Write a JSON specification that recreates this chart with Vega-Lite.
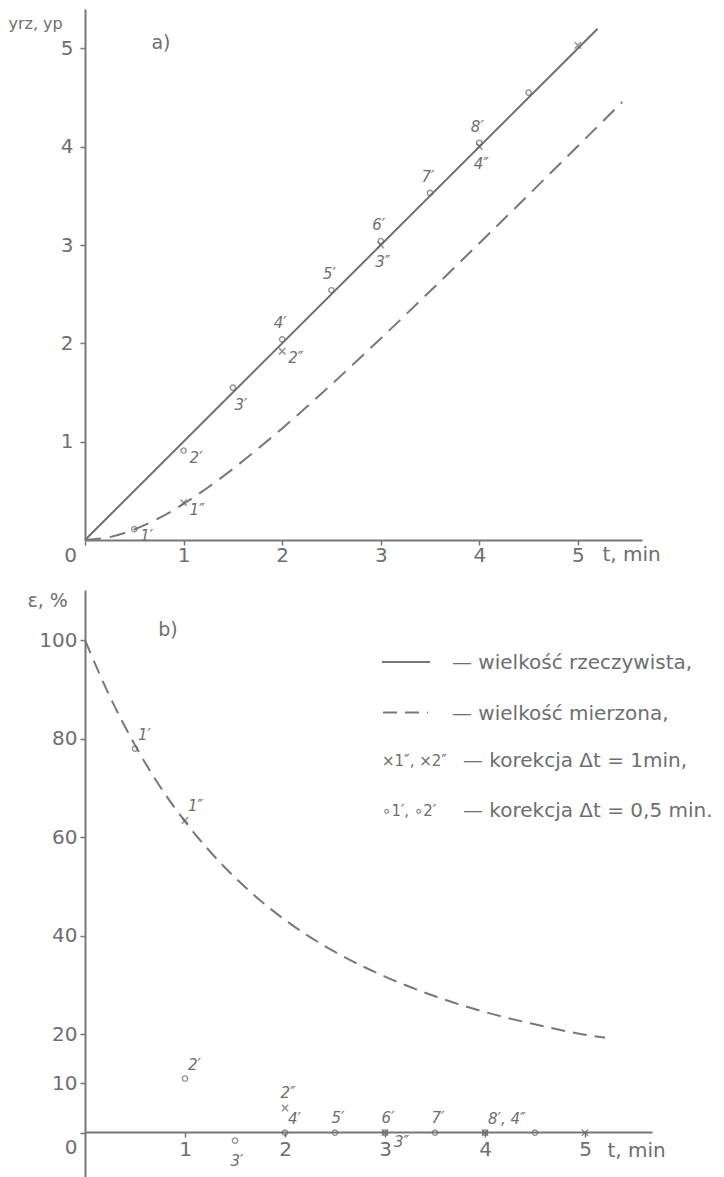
{
  "$schema": "https://vega.github.io/schema/vega-lite/v6.json",
  "padding": {"left": 8, "top": 9, "right": 0, "bottom": 0},
  "spacing": 50,
  "bounds": "flush",
  "background": "white",
  "config": {
    "view": {"stroke": null},
    "axis": {
      "grid": false, "domainColor": "#777777", "domainWidth": 2,
      "tickColor": "#777777", "tickWidth": 1.5, "tickSize": 5,
      "labelColor": "#6e6e6e", "labelFont": "DejaVu Sans", "labelFontSize": 20,
      "labelFlush": false, "labelOverlap": false,
      "titleColor": "#6e6e6e", "titleFont": "DejaVu Sans", "titleFontSize": 19, "titleFontWeight": "normal"
    },
    "text": {"font": "DejaVu Sans", "color": "#6e6e6e"}
  },
  "datasets": {
    "idealA": [{"t": 0, "v": 0}, {"t": 5.2, "v": 5.2}],
    "measA": [
      {"t": 0, "v": 0}, {"t": 0.25, "v": 0.029}, {"t": 0.5, "v": 0.107}, {"t": 0.75, "v": 0.222},
      {"t": 1, "v": 0.368}, {"t": 1.25, "v": 0.537}, {"t": 1.5, "v": 0.723}, {"t": 1.75, "v": 0.924},
      {"t": 2, "v": 1.135}, {"t": 2.5, "v": 1.582}, {"t": 3, "v": 2.05}, {"t": 3.5, "v": 2.53},
      {"t": 4, "v": 3.018}, {"t": 4.5, "v": 3.511}, {"t": 5, "v": 4.007}, {"t": 5.45, "v": 4.454}
    ],
    "ptsA": [
      {"t": 0.5, "v": 0.11, "kind": "o", "lab": "1′"},
      {"t": 1, "v": 0.91, "kind": "o", "lab": "2′"},
      {"t": 1.5, "v": 1.55, "kind": "o", "lab": "3′"},
      {"t": 2, "v": 2.04, "kind": "o", "lab": "4′"},
      {"t": 2.5, "v": 2.54, "kind": "o", "lab": "5′"},
      {"t": 3, "v": 3.04, "kind": "o", "lab": "6′"},
      {"t": 3.5, "v": 3.53, "kind": "o", "lab": "7′"},
      {"t": 4, "v": 4.04, "kind": "o", "lab": "8′"},
      {"t": 4.5, "v": 4.55, "kind": "o", "lab": ""},
      {"t": 1, "v": 0.38, "kind": "x", "lab": "1″"},
      {"t": 2, "v": 1.92, "kind": "x", "lab": "2″"},
      {"t": 3, "v": 3.0, "kind": "x", "lab": "3″"},
      {"t": 4, "v": 4.0, "kind": "x", "lab": "4″"},
      {"t": 5, "v": 5.03, "kind": "x", "lab": ""}
    ],
    "noteA": [{"t": 0.77, "v": 5.05, "txt": "a)"}],
    "measB": [
      {"t": 0, "v": 100}, {"t": 0.25, "v": 88.5}, {"t": 0.5, "v": 78.7}, {"t": 0.75, "v": 70.3},
      {"t": 1, "v": 63.2}, {"t": 1.25, "v": 57.1}, {"t": 1.5, "v": 51.8}, {"t": 1.75, "v": 47.2},
      {"t": 2, "v": 43.2}, {"t": 2.5, "v": 36.7}, {"t": 3, "v": 31.7}, {"t": 3.5, "v": 27.7},
      {"t": 4, "v": 24.5}, {"t": 4.5, "v": 22.0}, {"t": 5, "v": 19.9}, {"t": 5.2, "v": 19.3}
    ],
    "ptsB": [
      {"t": 0.5, "v": 78, "kind": "o", "lab": "1′"},
      {"t": 1, "v": 11, "kind": "o", "lab": "2′"},
      {"t": 1.5, "v": -1.6, "kind": "o", "lab": "3′"},
      {"t": 2, "v": 0, "kind": "o", "lab": "4′"},
      {"t": 2.5, "v": 0, "kind": "o", "lab": "5′"},
      {"t": 3, "v": 0, "kind": "o", "lab": "6′"},
      {"t": 3.5, "v": 0, "kind": "o", "lab": "7′"},
      {"t": 4, "v": 0, "kind": "o", "lab": "8′, 4″"},
      {"t": 4.5, "v": 0, "kind": "o", "lab": ""},
      {"t": 1, "v": 63.4, "kind": "x", "lab": "1″"},
      {"t": 2, "v": 5, "kind": "x", "lab": "2″"},
      {"t": 3, "v": 0, "kind": "x", "lab": "3″"},
      {"t": 4, "v": 0, "kind": "x", "lab": ""},
      {"t": 5, "v": 0, "kind": "x", "lab": ""}
    ],
    "noteB": [{"t": 0.83, "v": 102, "txt": "b)"}],
    "legRules": [
      {"t": 2.97, "t2": 3.45, "v": 95.6, "kind": "solid"},
      {"t": 2.98, "t2": 3.43, "v": 85.3, "kind": "dashed"}
    ],
    "legText": [
      {"t": 3.67, "v": 95.4, "txt": "— wielkość rzeczywista,"},
      {"t": 3.67, "v": 85.1, "txt": "— wielkość mierzona,"},
      {"t": 3.78, "v": 75.5, "txt": "— korekcja  Δt = 1min,"},
      {"t": 3.78, "v": 65.4, "txt": "— korekcja  Δt = 0,5 min."}
    ],
    "legPrefix": [
      {"t": 2.97, "v": 75.5, "txt": "×1″, ×2″"},
      {"t": 2.97, "v": 65.4, "txt": "∘1′, ∘2′"}
    ]
  },
  "vconcat": [
    {
      "width": 557,
      "height": 531,
      "encoding": {
        "x": {
          "field": "t", "type": "quantitative",
          "scale": {"domain": [0, 5.65], "nice": false, "zero": false},
          "axis": {
            "values": [0, 1, 2, 3, 4, 5], "title": "t, min",
            "titleX": 517, "titleY": 14, "titleAlign": "left", "titleBaseline": "middle", "titleAngle": 0, "titleFontSize": 20,
            "labelPadding": 0,
            "labelOffset": {"condition": {"test": "datum.value === 0", "value": -15}, "value": 0}
          }
        },
        "y": {
          "field": "v", "type": "quantitative",
          "scale": {"domain": [0, 5.4], "nice": false, "zero": false},
          "axis": {
            "values": [1, 2, 3, 4, 5], "title": "yrz, yp",
            "titleAngle": 0, "titleX": -77, "titleY": 14, "titleAlign": "left", "titleBaseline": "middle", "titleFontSize": 16,
            "labelPadding": 7
          }
        }
      },
      "layer": [
        {"data": {"name": "idealA"}, "mark": {"type": "line", "color": "#707070", "strokeWidth": 2}},
        {"data": {"name": "measA"}, "mark": {"type": "line", "color": "#787878", "strokeWidth": 2, "strokeDash": [16, 9], "interpolate": "monotone"}},
        {"data": {"name": "ptsA"}, "transform": [{"filter": "datum.kind === 'o'"}],
         "mark": {"type": "point", "shape": "circle", "filled": false, "size": 28, "strokeWidth": 1.4, "color": "#666666"}},
        {"data": {"name": "ptsA"}, "transform": [{"filter": "datum.kind === 'x'"}],
         "mark": {"type": "point", "shape": "M-1,-1L1,1M1,-1L-1,1", "filled": false, "size": 40, "strokeWidth": 1.5, "color": "#666666"}},
        {"data": {"name": "ptsA"}, "transform": [{"filter": {"field": "lab", "oneOf": ["4′", "5′", "6′", "7′", "8′"]}}],
         "mark": {"type": "text", "fontSize": 15, "fontStyle": "italic", "dx": -2, "dy": -16},
         "encoding": {"text": {"field": "lab"}}},
        {"data": {"name": "ptsA"}, "transform": [{"filter": {"field": "lab", "oneOf": ["3″", "4″"]}}],
         "mark": {"type": "text", "fontSize": 15, "fontStyle": "italic", "dx": 2, "dy": 17},
         "encoding": {"text": {"field": "lab"}}},
        {"data": {"name": "ptsA"}, "transform": [{"filter": {"field": "lab", "oneOf": ["3′"]}}],
         "mark": {"type": "text", "fontSize": 15, "fontStyle": "italic", "dx": 8, "dy": 17},
         "encoding": {"text": {"field": "lab"}}},
        {"data": {"name": "ptsA"}, "transform": [{"filter": {"field": "lab", "oneOf": ["1′", "2′", "1″", "2″"]}}],
         "mark": {"type": "text", "fontSize": 15, "fontStyle": "italic", "align": "left", "dx": 6, "dy": 7},
         "encoding": {"text": {"field": "lab"}}},
        {"data": {"name": "noteA"}, "mark": {"type": "text", "fontSize": 19},
         "encoding": {"text": {"field": "txt"}}}
      ]
    },
    {
      "width": 567,
      "height": 587,
      "encoding": {
        "x": {
          "field": "t", "type": "quantitative",
          "scale": {"domain": [0, 5.67], "nice": false, "zero": false},
          "axis": {
            "values": [1, 2, 3, 4, 5], "offset": -45, "title": "t, min",
            "titleX": 522, "titleY": 18, "titleAlign": "left", "titleBaseline": "middle", "titleAngle": 0, "titleFontSize": 20,
            "labelPadding": 2
          }
        },
        "y": {
          "field": "v", "type": "quantitative",
          "scale": {"domain": [-9, 110.2], "nice": false, "zero": false},
          "axis": {
            "values": [0, 10, 20, 40, 60, 80, 100], "title": "ε, %",
            "titleAngle": 0, "titleX": -58, "titleY": 10, "titleAlign": "left", "titleBaseline": "middle", "titleFontSize": 19,
            "labelPadding": 3,
            "labelOffset": {"condition": {"test": "datum.value === 0", "value": 15}, "value": 0}
          }
        }
      },
      "layer": [
        {"data": {"name": "measB"}, "mark": {"type": "line", "color": "#787878", "strokeWidth": 2, "strokeDash": [14, 8], "interpolate": "monotone"}},
        {"data": {"name": "legRules"}, "mark": {"type": "rule", "color": "#787878", "strokeWidth": 2},
         "encoding": {
           "x2": {"field": "t2"},
           "strokeDash": {"field": "kind", "type": "nominal", "scale": {"domain": ["solid", "dashed"], "range": [[1, 0], [14, 8]]}, "legend": null}
         }},
        {"data": {"name": "legText"}, "mark": {"type": "text", "align": "left", "baseline": "middle", "fontSize": 20},
         "encoding": {"text": {"field": "txt"}}},
        {"data": {"name": "legPrefix"}, "mark": {"type": "text", "align": "left", "baseline": "middle", "fontSize": 15},
         "encoding": {"text": {"field": "txt"}}},
        {"data": {"name": "ptsB"}, "transform": [{"filter": "datum.kind === 'o'"}],
         "mark": {"type": "point", "shape": "circle", "filled": false, "size": 28, "strokeWidth": 1.4, "color": "#666666"}},
        {"data": {"name": "ptsB"}, "transform": [{"filter": "datum.kind === 'x'"}],
         "mark": {"type": "point", "shape": "M-1,-1L1,1M1,-1L-1,1", "filled": false, "size": 40, "strokeWidth": 1.5, "color": "#666666"}},
        {"data": {"name": "ptsB"}, "transform": [{"filter": {"field": "lab", "oneOf": ["2″", "5′", "6′", "7′"]}}],
         "mark": {"type": "text", "fontSize": 15, "fontStyle": "italic", "dx": 3, "dy": -15},
         "encoding": {"text": {"field": "lab"}}},
        {"data": {"name": "ptsB"}, "transform": [{"filter": {"field": "lab", "oneOf": ["1′", "1″", "2′", "4′", "8′, 4″"]}}],
         "mark": {"type": "text", "fontSize": 15, "fontStyle": "italic", "align": "left", "dx": 3, "dy": -14},
         "encoding": {"text": {"field": "lab"}}},
        {"data": {"name": "ptsB"}, "transform": [{"filter": {"field": "lab", "oneOf": ["3′"]}}],
         "mark": {"type": "text", "fontSize": 15, "fontStyle": "italic", "dx": 2, "dy": 20},
         "encoding": {"text": {"field": "lab"}}},
        {"data": {"name": "ptsB"}, "transform": [{"filter": {"field": "lab", "oneOf": ["3″"]}}],
         "mark": {"type": "text", "fontSize": 15, "fontStyle": "italic", "align": "left", "dx": 9, "dy": 9},
         "encoding": {"text": {"field": "lab"}}},
        {"data": {"name": "noteB"}, "mark": {"type": "text", "fontSize": 19},
         "encoding": {"text": {"field": "txt"}}}
      ]
    }
  ]
}
